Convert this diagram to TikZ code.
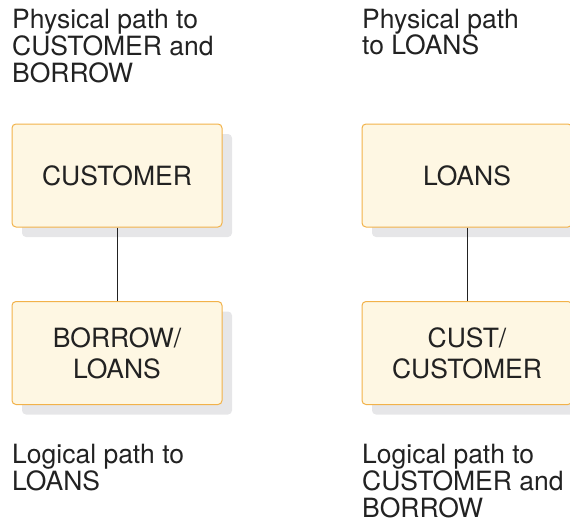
\documentclass[tikz,border=0pt]{standalone}
\usepackage{fontspec}
\setmainfont{TeX Gyre Heros}
\usetikzlibrary{shadows}
\definecolor{boxfill}{HTML}{FEF7E3}
\definecolor{boxline}{HTML}{F2B24A}
\definecolor{shadowgray}{HTML}{E6E6E8}
\definecolor{inkgray}{HTML}{222222}
\tikzset{
  segbox/.style={draw=boxline,fill=boxfill,line width=1pt,rounded corners=4pt,
    minimum width=210pt,minimum height=103pt,align=center,text=inkgray,
    font=\fontsize{26.5pt}{31pt}\selectfont,
    drop shadow={shadow xshift=10pt,shadow yshift=-10pt,fill=shadowgray,opacity=1}},
  pathlabel/.style={anchor=base west,inner sep=0pt,align=left,text=inkgray,
    font=\fontsize{26.5pt}{26.8pt}\selectfont},
  pathlink/.style={draw=inkgray,line width=0.9pt}
}
\begin{document}
\begin{tikzpicture}[x=1pt,y=-1pt]
\useasboundingbox (0,0) rectangle (570,527);
% left: physical path to CUSTOMER and BORROW
\node[pathlabel] (physleft) at (12,82) {Physical path to\\CUSTOMER and\\BORROW};
\node[segbox] (customer) at (117,175.5) {CUSTOMER};
\node[segbox] (borrowloans) at (117,353) {BORROW/\\LOANS};
\draw[pathlink] (customer.south) -- (borrowloans.north);
\node[pathlabel] (logleft) at (12,490) {Logical path to\\LOANS};
% right: physical path to LOANS
\node[pathlabel] (physright) at (362,55) {Physical path\\to LOANS};
\node[segbox] (loans) at (467,175.5) {LOANS};
\node[segbox] (custcustomer) at (467,353) {CUST/\\CUSTOMER};
\draw[pathlink] (loans.south) -- (custcustomer.north);
\node[pathlabel] (logright) at (362,517) {Logical path to\\CUSTOMER and\\BORROW};
\end{tikzpicture}
\end{document}
